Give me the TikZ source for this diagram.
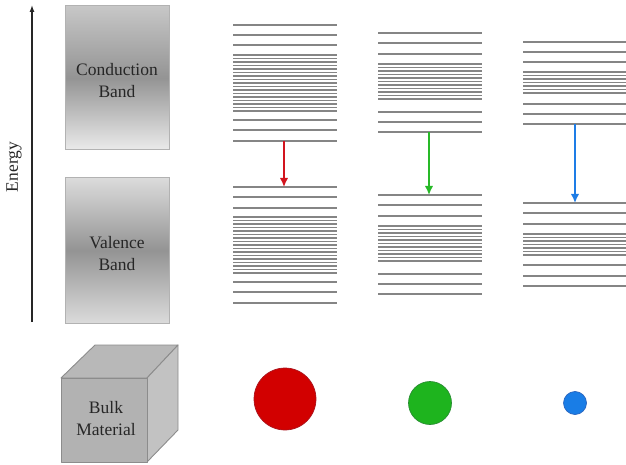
\documentclass[tikz,border=0pt]{standalone}
\usepackage{fontspec}
\setmainfont{Liberation Serif}
\usetikzlibrary{arrows.meta}
\begin{document}
\begin{tikzpicture}[x=1pt,y=-1pt,
  lvl/.style={draw=black!48,line width=1.7pt},
  bandbox/.style={draw=black!30,line width=1pt},
  lbl/.style={font=\fontsize{17.5}{22}\selectfont,align=center,text=black!85},
  trans/.style={line width=2.4pt,-{Latex[length=9pt,width=8.5pt]}},
  dot/.style={circle,inner sep=0pt,line width=0.7pt}]
\useasboundingbox (0,0) rectangle (626,465);

% energy axis
\coordinate (ebot) at (32,322);
\coordinate (etop) at (32,5);
\draw[line width=1.3pt,black!85,-{Latex[length=7pt,width=5pt]}] (ebot) -- (etop);
\node[lbl] (energy) at (14,167) [rotate=90] {Energy};

% bulk bands
\shade[top color=black!22,bottom color=black!8,middle color=black!42] (65,6) rectangle (169,150);
\draw[bandbox] (65,6) rectangle (169,150);
\node[lbl] (cb) at (117,81) {Conduction\\Band};
\shade[top color=black!14,bottom color=black!14,middle color=black!42] (65,178) rectangle (169,323);
\draw[bandbox] (65,178) rectangle (169,323);
\node[lbl] (vb) at (117,254) {Valence\\Band};

% discrete levels, column 1
\foreach \y in {25,35,45,120,130,141,187,197,208,282,292,303}
  \draw[lvl] (233,\y) -- (337,\y);
\foreach \y in {55,58.5,...,111}
  \draw[lvl] (233,\y) -- (337,\y);
\foreach \y in {217,220.5,...,273}
  \draw[lvl] (233,\y) -- (337,\y);
\coordinate (r1) at (284,141);
\coordinate (r2) at (284,187);
\draw[trans,draw={rgb,255:red,210;green,20;blue,30},fill={rgb,255:red,210;green,20;blue,30}] (r1) -- (r2);

% discrete levels, column 2
\foreach \y in {33,43,54,112,122,132,195,205,216,274,284,294}
  \draw[lvl] (378,\y) -- (482,\y);
\foreach \y in {64,67.5,...,102}
  \draw[lvl] (378,\y) -- (482,\y);
\foreach \y in {226,229.5,...,264}
  \draw[lvl] (378,\y) -- (482,\y);
\coordinate (g1) at (429,132);
\coordinate (g2) at (429,195);
\draw[trans,draw={rgb,255:red,40;green,185;blue,40},fill={rgb,255:red,40;green,185;blue,40}] (g1) -- (g2);

% discrete levels, column 3
\foreach \y in {42,52,62,104,114,124,203,213,224,265,276,286}
  \draw[lvl] (523,\y) -- (626,\y);
\foreach \y in {72,75.5,...,94}
  \draw[lvl] (523,\y) -- (626,\y);
\foreach \y in {234,237.5,...,255}
  \draw[lvl] (523,\y) -- (626,\y);
\coordinate (b1) at (575,124);
\coordinate (b2) at (575,203);
\draw[trans,draw={rgb,255:red,30;green,125;blue,230},fill={rgb,255:red,30;green,125;blue,230}] (b1) -- (b2);

% bulk cube
\filldraw[fill=black!28,draw=black!45,line width=0.9pt,line join=round]
  (61,378) -- (95,345) -- (178,345) -- (147,378) -- cycle;
\filldraw[fill=black!24,draw=black!45,line width=0.9pt,line join=round]
  (147,378) -- (178,345) -- (178,430) -- (147,462) -- cycle;
\filldraw[fill=black!30,draw=black!45,line width=0.9pt,line join=round]
  (61,378) rectangle (147,462);
\node[lbl] (bulk) at (106,419) {Bulk\\Material};

% nanocrystals
\node[dot,minimum size=62pt,fill={rgb,255:red,210;green,0;blue,0},draw={rgb,255:red,170;green,20;blue,30}] (qd1) at (285,399) {};
\node[dot,minimum size=43pt,fill={rgb,255:red,30;green,180;blue,30},draw={rgb,255:red,40;green,140;blue,50}] (qd2) at (430,403) {};
\node[dot,minimum size=23pt,fill={rgb,255:red,25;green,125;blue,230},draw={rgb,255:red,40;green,100;blue,190}] (qd3) at (575,403) {};
\end{tikzpicture}
\end{document}
